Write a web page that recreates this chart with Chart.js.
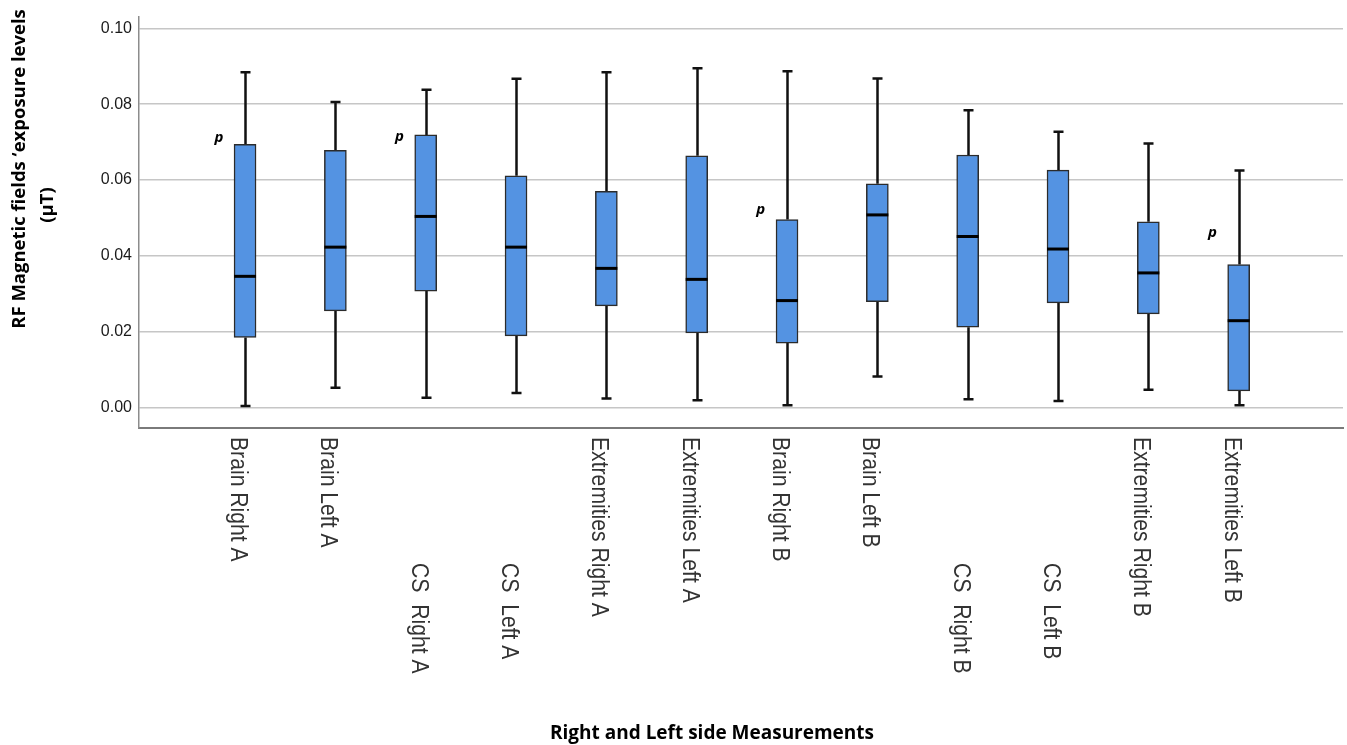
<!DOCTYPE html>
<html>
<head>
<meta charset="utf-8">
<script src="https://cdn.jsdelivr.net/npm/chart.js@4.4.0/dist/chart.umd.min.js"></script>
<style>
  body { margin: 0; background: #fff; }
  #wrap { width: 1347px; height: 745px; }
</style>
</head>
<body>
<div id="wrap"><canvas id="boxChart" width="1347" height="745"></canvas></div>
<script>
// box plot values (µT)
const categories = ['Brain Right A', 'Brain Left A', 'CS  Right A', 'CS  Left A',
  'Extremities Right A', 'Extremities Left A', 'Brain Right B', 'Brain Left B',
  'CS  Right B', 'CS  Left B', 'Extremities Right B', 'Extremities Left B']
const whiskerLow = [0.0004, 0.0052, 0.0026, 0.0038, 0.0024, 0.0019, 0.0006, 0.0082, 0.0022, 0.0017, 0.0047, 0.0006]
const q1 = [0.0185, 0.0255, 0.0307, 0.0189, 0.0268, 0.0197, 0.0170, 0.0279, 0.0212, 0.0276, 0.0247, 0.0044]
const median = [0.0346, 0.0423, 0.0504, 0.0423, 0.0367, 0.0338, 0.0282, 0.0508, 0.0451, 0.0418, 0.0355, 0.0229]
const q3 = [0.0694, 0.0678, 0.0719, 0.0611, 0.0570, 0.0664, 0.0496, 0.0590, 0.0666, 0.0626, 0.0490, 0.0377]
const whiskerHigh = [0.0884, 0.0806, 0.0838, 0.0867, 0.0884, 0.0895, 0.0887, 0.0868, 0.0784, 0.0727, 0.0696, 0.0625]
const yTicks = [0, 0.02, 0.04, 0.06, 0.08, 0.10]

// "p" marks next to some boxes
const pIndex = [0, 2, 6, 11]
const pValue = [0.0711, 0.0714, 0.0522, 0.0462]

const boxData = categories.map((c, i) => ({ x: i, y: [q1[i], q3[i]] }))

const boxExtras = {
  id: 'boxExtras',
  beforeDatasetsDraw(chart) {
    const { ctx, scales: { x, y } } = chart
    ctx.save()
    ctx.strokeStyle = '#111'
    ctx.lineWidth = 2.5
    categories.forEach((c, i) => {
      const px = Math.round(x.getPixelForValue(i)) + 0.5
      const yl = y.getPixelForValue(whiskerLow[i])
      const yh = y.getPixelForValue(whiskerHigh[i])
      ctx.beginPath()
      ctx.moveTo(px, yh); ctx.lineTo(px, y.getPixelForValue(q3[i]))
      ctx.moveTo(px, y.getPixelForValue(q1[i])); ctx.lineTo(px, yl)
      ctx.moveTo(px - 5, yh); ctx.lineTo(px + 5, yh)
      ctx.moveTo(px - 5, yl); ctx.lineTo(px + 5, yl)
      ctx.stroke()
    })
    ctx.restore()
  },
  afterDatasetsDraw(chart) {
    const { ctx, scales: { x, y } } = chart
    ctx.save()
    // medians
    ctx.strokeStyle = '#000'
    ctx.lineWidth = 3
    categories.forEach((c, i) => {
      const px = x.getPixelForValue(i)
      const py = y.getPixelForValue(median[i])
      ctx.beginPath()
      ctx.moveTo(px - 11, py); ctx.lineTo(px + 11, py)
      ctx.stroke()
    })
    // p marks
    ctx.fillStyle = '#000'
    ctx.font = 'italic bold 15px "Open Sans"'
    ctx.textAlign = 'center'
    ctx.textBaseline = 'middle'
    pIndex.forEach((idx, k) => {
      ctx.fillText('p', x.getPixelForValue(idx - 0.29), y.getPixelForValue(pValue[k]))
    })
    // category labels, rotated clockwise
    ctx.fillStyle = '#333'
    ctx.font = '23px "Liberation Sans"'
    ctx.textAlign = 'left'
    ctx.textBaseline = 'alphabetic'
    categories.forEach((c, i) => {
      const indent = c.startsWith('CS') ? 126 : 0
      ctx.save()
      ctx.translate(x.getPixelForValue(i) - 14, y.bottom + 9 + indent)
      ctx.rotate(Math.PI / 2)
      ctx.scale(0.92, 1)
      ctx.fillText(c, 0, 0)
      ctx.restore()
    })
    // axis titles
    ctx.fillStyle = '#000'
    ctx.textAlign = 'center'
    ctx.font = 'bold 19px "Open Sans"'
    ctx.fillText('Right and Left side Measurements', 712, 739)
    ctx.font = 'bold 18.5px "Open Sans"'
    ctx.save()
    ctx.translate(25, 169)
    ctx.rotate(-Math.PI / 2)
    ctx.fillText('RF Magnetic fields \u2018exposure levels', 0, 0)
    ctx.restore()
    ctx.save()
    ctx.translate(53, 205)
    ctx.rotate(-Math.PI / 2)
    ctx.fillText('(\u00b5T)', 0, 0)
    ctx.restore()
    ctx.restore()
  }
}

new Chart(document.getElementById('boxChart').getContext('2d'), {
  type: 'bar',
  data: {
    datasets: [{
      data: boxData,
      backgroundColor: '#5493e2',
      borderColor: '#2b2b2b',
      borderWidth: 1.5,
      borderSkipped: false,
      barThickness: 22
    }]
  },
  options: {
    responsive: false,
    animation: false,
    layout: { padding: { left: 0, top: 14, right: 4, bottom: 0 } },
    plugins: { legend: { display: false }, tooltip: { enabled: false } },
    scales: {
      x: {
        type: 'linear',
        offset: false,
        min: -1.174,
        max: 12.155,
        grid: { display: false },
        border: { display: true, color: '#7a7a7a', width: 2 },
        ticks: { display: false },
        afterFit: s => { s.height = 317 }
      },
      y: {
        min: -0.0054,
        max: 0.1031,
        afterBuildTicks: s => { s.ticks = yTicks.map(v => ({ value: v })) },
        grid: { color: '#c6c6c6', lineWidth: 1.5, drawTicks: false },
        border: { display: true, color: '#8c8c8c', width: 1.5 },
        ticks: {
          padding: 7,
          color: '#1a1a1a',
          font: { family: '"Liberation Sans"', size: 16 },
          callback: v => v.toFixed(2)
        },
        afterFit: s => { s.width = 139 }
      }
    }
  },
  plugins: [boxExtras]
})
</script>
</body>
</html>
